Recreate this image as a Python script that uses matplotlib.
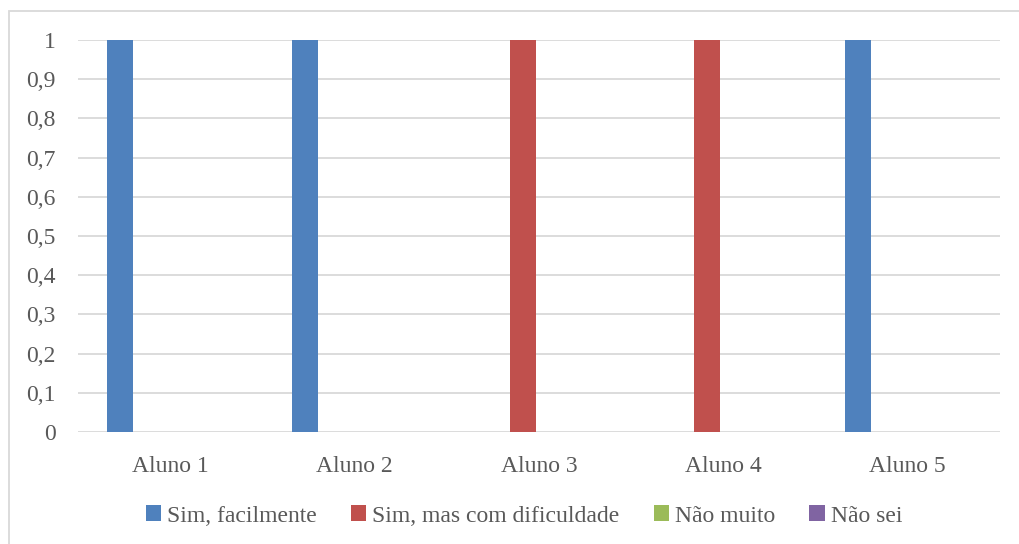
import matplotlib
matplotlib.use("Agg")
import matplotlib.pyplot as plt
from matplotlib.patches import Rectangle, Patch
import numpy as np

categories = ["Aluno 1", "Aluno 2", "Aluno 3", "Aluno 4", "Aluno 5"]
series_names = ["Sim, facilmente", "Sim, mas com dificuldade", "Não muito", "Não sei"]
sim_facilmente = [1, 1, 0, 0, 1]
sim_dificuldade = [0, 0, 1, 1, 0]
nao_muito = [0, 0, 0, 0, 0]
nao_sei = [0, 0, 0, 0, 0]
yticks = [0, 0.1, 0.2, 0.3, 0.4, 0.5, 0.6, 0.7, 0.8, 0.9, 1]
ytick_labels = ["0", "0,1", "0,2", "0,3", "0,4", "0,5", "0,6", "0,7", "0,8", "0,9", "1"]
colors = ["#4F81BD", "#C0504D", "#9BBB59", "#8064A2"]

W, H = 1020, 544
fig = plt.figure(figsize=(W / 100, H / 100), dpi=100)
fig.patch.set_facecolor("white")

# chart frame
fig.add_artist(Rectangle((9 / W, -0.05), 1.1, (H - 11) / H + 0.05,
                         transform=fig.transFigure, fill=False,
                         edgecolor="#d9d9d9", linewidth=1.3))

ax = fig.add_axes([78 / W, 112 / H, (1000 - 78) / W, (432 - 40) / H])
x = np.arange(len(categories))
width = 0.141
step = 0.184
data = [sim_facilmente, sim_dificuldade, nao_muito, nao_sei]
for i, (vals, c) in enumerate(zip(data, colors)):
    ax.bar(x + (i - 1.5) * step + 0.005, vals, width=width, color=c, zorder=3)

ax.set_xlim(-0.5, len(categories) - 0.5)
ax.set_ylim(0, 1)
ax.set_yticks(yticks)
ax.set_yticklabels(ytick_labels)
ax.set_xticks(x)
ax.set_xticklabels(categories)
ax.grid(axis="y", color="#d9d9d9", linewidth=1.3, zorder=0)
ax.set_axisbelow(True)
for s in ax.spines.values():
    s.set_visible(False)
ax.tick_params(length=0, labelsize=17, labelcolor="#595959")
ax.tick_params(axis="y", pad=16)
ax.tick_params(axis="x", pad=17)
for lab in ax.get_xticklabels() + ax.get_yticklabels():
    lab.set_fontfamily("Liberation Serif")

handles = [Patch(facecolor=c, edgecolor="none") for c in colors]
leg = fig.legend(handles, series_names, loc="center", bbox_to_anchor=(524 / W, 28 / H),
                 ncol=4, frameon=False, handlelength=0.65, handleheight=0.65,
                 handletextpad=0.25, columnspacing=1.45,
                 prop={"family": "Liberation Serif", "size": 17})
for t in leg.get_texts():
    t.set_color("#595959")

fig.savefig("out.png", dpi=100)
